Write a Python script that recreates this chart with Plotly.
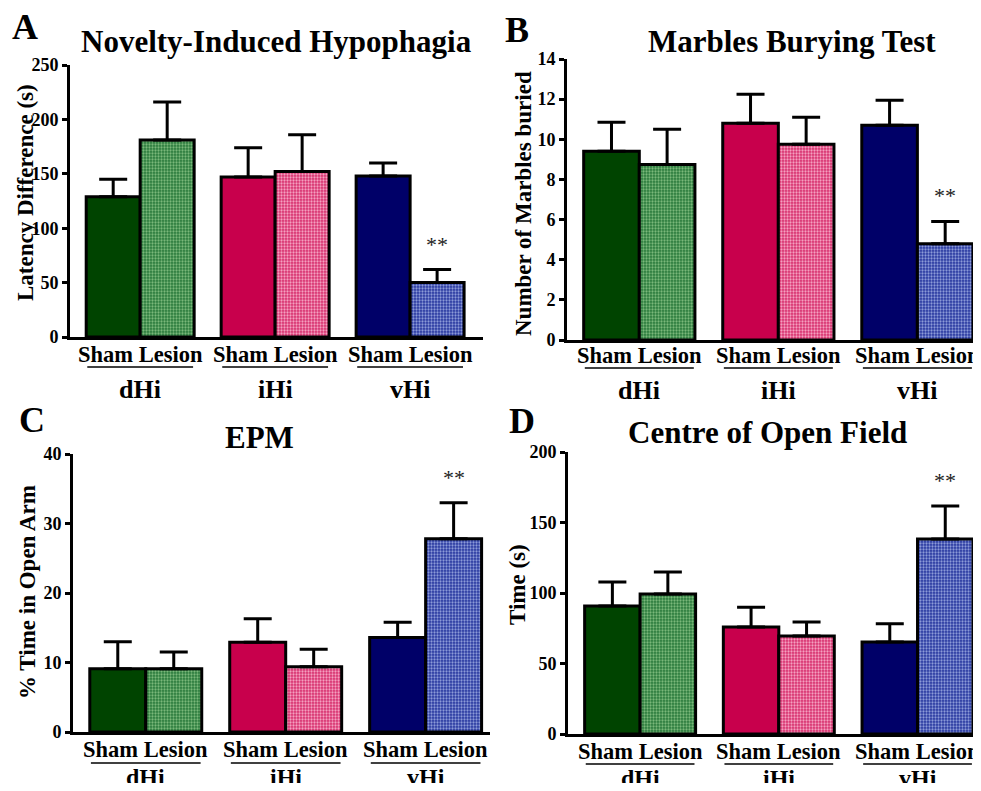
import plotly.graph_objects as go

# ---------------- data ----------------
regions = ["dHi", "iHi", "vHi"]
conditions = ["Sham", "Lesion"]

nih_sham = [129, 147, 148]
nih_lesion = [181, 152, 50]
nih_sham_sem = [16, 27, 12]
nih_lesion_sem = [35, 34, 12]

mb_sham = [9.4, 10.8, 10.7]
mb_lesion = [8.75, 9.75, 4.8]
mb_sham_sem = [1.45, 1.45, 1.25]
mb_lesion_sem = [1.75, 1.35, 1.1]

epm_sham = [9.1, 12.9, 13.6]
epm_lesion = [9.1, 9.4, 27.8]
epm_sham_sem = [3.9, 3.4, 2.2]
epm_lesion_sem = [2.4, 2.5, 5.2]

of_sham = [90.8, 75.9, 65.2]
of_lesion = [99.3, 69.5, 138.3]
of_sham_sem = [17, 14, 13]
of_lesion_sem = [15.6, 10, 23.4]

significant = [False, False, True]  # ** on the vHi lesion bar

panels = [
    dict(letter="A", title="Novelty-Induced Hypophagia", ytitle="Latency Difference (s)",
         sham=nih_sham, lesion=nih_lesion, ssem=nih_sham_sem, lsem=nih_lesion_sem,
         yr=250, dtick=50),
    dict(letter="B", title="Marbles Burying Test", ytitle="Number of Marbles buried",
         sham=mb_sham, lesion=mb_lesion, ssem=mb_sham_sem, lsem=mb_lesion_sem,
         yr=14, dtick=2),
    dict(letter="C", title="EPM", ytitle="% Time in Open Arm",
         sham=epm_sham, lesion=epm_lesion, ssem=epm_sham_sem, lsem=epm_lesion_sem,
         yr=40, dtick=10),
    dict(letter="D", title="Centre of Open Field", ytitle="Time (s)",
         sham=of_sham, lesion=of_lesion, ssem=of_sham_sem, lsem=of_lesion_sem,
         yr=200, dtick=50),
]

# ---------------- style / layout ----------------
PAGE_W, PAGE_H, BODY_MARGIN = 981, 791, 8
W, H = PAGE_W - 2 * BODY_MARGIN, PAGE_H - 2 * BODY_MARGIN
FONT = "Liberation Serif, Times New Roman, serif"
sham_colors = ["#004400", "#c8004c", "#000068"]
lesion_bg = ["#2a7a3c", "#d8306e", "#2838a0"]
lesion_fg = ["#7ab87a", "#f4a0c0", "#8c9ad8"]

# plot areas in page pixels: (x0, x1, ytop, ybottom)
areas = [(70, 483, 65, 337), (567, 973, 59, 340), (73, 490, 454, 732), (568, 973, 452, 734)]
xranges = [7.65, 7.3, 7.45, 7.3]
# text positions in page pixels
letter_pos = [(25, 27), (517, 30), (32, 420), (522, 421)]
title_pos = [(276, 42), (792, 42), (259, 437), (767, 433)]
ytitle_pos = [(25, 193), (523, 204), (27, 592), (517, 585)]
xlab_y = [(354, 367, 389), (356, 368, 390), (749, 763, 777), (751, 764, 778)]
xlab_size = [(22.5, 26), (22.5, 26), (22.5, 24), (22.5, 24)]


def pxx(p):
    return (p - BODY_MARGIN) / W


def pxy(p):
    return 1 - (p - BODY_MARGIN) / H


fig = go.Figure()
annotations = []
shapes = []


def label(x, y, text, size, xref="paper", angle=0, color="black"):
    annotations.append(dict(x=x, y=y, xref=xref, yref="paper", text=text, showarrow=False,
                            xanchor="center", yanchor="middle", textangle=angle,
                            font=dict(family=FONT, size=size, color=color)))


for i, p in enumerate(panels):
    n = "" if i == 0 else str(i + 1)
    xa, ya = "x" + n, "y" + n
    x0, x1, yt, yb = areas[i]
    xr, yr = xranges[i], p["yr"]

    sham_x = [0.8 + 2.5 * g for g in range(3)]
    les_x = [1.8 + 2.5 * g for g in range(3)]
    for g in range(3):
        fig.add_trace(go.Bar(
            x=[sham_x[g]], y=[p["sham"][g]], width=1, xaxis=xa, yaxis=ya,
            marker=dict(color=sham_colors[g], line=dict(color="black", width=3)),
            error_y=dict(type="data", array=[p["ssem"][g]], arrayminus=[0], symmetric=False,
                         thickness=3, width=14, color="black"),
            showlegend=False, name=f"{regions[g]} Sham"))
        fig.add_trace(go.Bar(
            x=[les_x[g]], y=[p["lesion"][g]], width=1, xaxis=xa, yaxis=ya,
            marker=dict(color=lesion_bg[g], line=dict(color="black", width=3),
                        pattern=dict(shape=".", fgcolor=lesion_fg[g], bgcolor=lesion_bg[g],
                                     size=3, solidity=0.45, fillmode="replace")),
            error_y=dict(type="data", array=[p["lsem"][g]], arrayminus=[0], symmetric=False,
                         thickness=3, width=14, color="black"),
            showlegend=False, name=f"{regions[g]} Lesion"))
        if significant[g]:
            annotations.append(dict(
                x=les_x[g], y=p["lesion"][g] + p["lsem"][g] + 0.04 * yr,
                xref=xa, yref=ya, text="**", showarrow=False, xanchor="center", yanchor="bottom",
                font=dict(family=FONT, size=22, color="#222")))
        gc = (sham_x[g] + les_x[g]) / 2
        ly1, ly2, ly3 = xlab_y[i]
        s1, s3 = xlab_size[i]
        label(gc, pxy(ly1), "<b>Sham Lesion</b>", s1, xref=xa)
        label(gc, pxy(ly3), f"<b>{regions[g]}</b>", s3, xref=xa)
        shapes.append(dict(type="line", xref=xa, yref="paper", x0=gc - 0.98, x1=gc + 0.98,
                           y0=pxy(ly2), y1=pxy(ly2), line=dict(color="black", width=1.5)))

    axis_common = dict(showline=True, linecolor="black", linewidth=3, showgrid=False,
                       zeroline=False, automargin=False)
    fig.layout["xaxis" + n] = dict(domain=[pxx(x0), pxx(x1)], range=[0, xr],
                                   showticklabels=False, ticks="", anchor=ya, fixedrange=True,
                                   **axis_common)
    fig.layout["yaxis" + n] = dict(domain=[pxy(yb), pxy(yt)], range=[0, yr], dtick=p["dtick"],
                                   ticks="outside", ticklen=5, tickwidth=2.5, tickcolor="black",
                                   tickfont=dict(family=FONT, size=18, color="black", weight="bold"),
                                   ticklabelstandoff=0, anchor=xa, **axis_common)

    lx, ly = letter_pos[i]
    label(pxx(lx), pxy(ly), f"<b>{p['letter']}</b>", 36)
    tx, ty = title_pos[i]
    label(pxx(tx), pxy(ty), f"<b>{p['title']}</b>", 31)
    yx, yy = ytitle_pos[i]
    label(pxx(yx), pxy(yy), f"<b>{p['ytitle']}</b>", 23, angle=-90)

fig.update_layout(width=W, height=H, margin=dict(l=0, r=0, t=0, b=0, autoexpand=False),
                  paper_bgcolor="white", plot_bgcolor="white", barmode="overlay",
                  annotations=annotations, shapes=shapes)

fig.write_html("out.html")
